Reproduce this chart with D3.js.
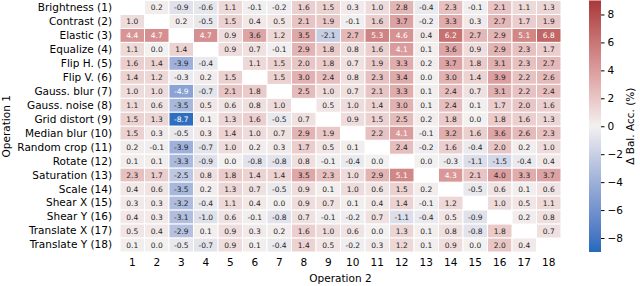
<!DOCTYPE html>
<html>
<head>
<meta charset="utf-8">
<script src="https://cdn.jsdelivr.net/npm/d3@7"></script>
<style>
  body { margin: 0; background: #fff; }
  text { font-family: "DejaVu Sans", sans-serif; }
</style>
</head>
<body>
<div id="graph"></div>
<script>
// pairwise augmentation heatmap
const opNames = ["Brightness (1)", "Contrast (2)", "Elastic (3)", "Equalize (4)", "Flip H. (5)", "Flip V. (6)",
    "Gauss. blur (7)", "Gauss. noise (8)", "Grid distort (9)", "Median blur (10)", "Random crop (11)", "Rotate (12)",
    "Saturation (13)", "Scale (14)", "Shear X (15)", "Shear Y (16)", "Translate X (17)", "Translate Y (18)"];
const colLabels = d3.range(1, 19).map(String);
const cbarTicks = [-8, -6, -4, -2, 0, 2, 4, 6, 8];

// rows = operation 1, columns = operation 2, null on the diagonal
const values = [
    [null, 0.2, -0.9, -0.6, 1.1, -0.1, -0.2, 1.6, 1.5, 0.3, 1.0, 2.8, -0.4, 2.3, -0.1, 2.1, 1.1, 1.3],
    [1.0, null, 0.2, -0.5, 1.5, 0.4, 0.5, 2.1, 1.9, -0.1, 1.6, 3.7, -0.2, 3.3, 0.3, 2.7, 1.7, 1.9],
    [4.4, 4.7, null, 4.7, 0.9, 3.6, 1.2, 3.5, -2.1, 2.7, 5.3, 4.6, 0.4, 6.2, 2.7, 2.9, 5.1, 6.8],
    [1.1, 0.0, 1.4, null, 0.9, 0.7, -0.1, 2.9, 1.8, 0.8, 1.6, 4.1, 0.1, 3.6, 0.9, 2.9, 2.3, 1.7],
    [1.6, 1.4, -3.9, -0.4, null, 1.1, 1.5, 2.0, 1.8, 0.7, 1.9, 3.3, 0.2, 3.7, 1.8, 3.1, 2.3, 2.7],
    [1.4, 1.2, -0.3, 0.2, 1.5, null, 1.5, 3.0, 2.4, 0.8, 2.3, 3.4, 0.0, 3.0, 1.4, 3.9, 2.2, 2.6],
    [1.0, 1.0, -4.9, -0.7, 2.1, 1.8, null, 2.5, 1.0, 0.7, 2.1, 3.3, 0.1, 2.4, 0.7, 3.1, 2.2, 2.4],
    [1.1, 0.6, -3.5, 0.5, 0.6, 0.8, 1.0, null, 0.5, 1.0, 1.4, 3.0, 0.1, 2.4, 0.1, 1.7, 2.0, 1.6],
    [1.5, 1.3, -8.7, 0.1, 1.3, 1.6, -0.5, 0.7, null, 0.9, 1.5, 2.5, 0.2, 1.8, 0.0, 1.8, 1.6, 1.3],
    [1.5, 0.3, -0.5, 0.3, 1.4, 1.0, 0.7, 2.9, 1.9, null, 2.2, 4.1, -0.1, 3.2, 1.6, 3.6, 2.6, 2.3],
    [0.2, -0.1, -3.9, -0.7, 1.0, 0.2, 0.3, 1.7, 0.5, 0.1, null, 2.4, -0.2, 1.6, -0.4, 2.0, 0.2, 1.0],
    [0.1, 0.1, -3.3, -0.9, 0.0, -0.8, -0.8, 0.8, -0.1, -0.4, 0.0, null, 0.0, -0.3, -1.1, -1.5, -0.4, 0.4],
    [2.3, 1.7, -2.5, 0.8, 1.8, 1.4, 1.4, 3.5, 2.3, 1.0, 2.9, 5.1, null, 4.3, 2.1, 4.0, 3.3, 3.7],
    [0.4, 0.6, -3.5, 0.2, 1.3, 0.7, -0.5, 0.9, 0.1, 1.0, 0.6, 1.5, 0.2, null, -0.5, 0.6, 0.1, 0.6],
    [0.3, 0.3, -3.2, -0.4, 1.1, 0.4, 0.0, 0.9, 0.7, 0.1, 0.4, 1.4, -0.1, 1.2, null, 1.0, 0.5, 1.1],
    [0.4, 0.3, -3.1, -1.0, 0.6, -0.1, -0.8, 0.7, -0.1, -0.2, 0.7, -1.1, -0.4, 0.5, -0.9, null, 0.2, 0.8],
    [0.5, 0.4, -2.9, 0.1, 0.9, 0.3, 0.2, 1.6, 1.0, 0.6, 0.0, 1.3, 0.1, 0.8, -0.8, 1.8, null, 0.7],
    [0.1, 0.0, -0.5, -0.7, 0.9, 0.1, -0.4, 1.4, 0.5, -0.2, 0.3, 1.2, 0.1, 0.9, 0.0, 2.0, 0.4, null]
];

const width = 640, height = 286;
const margin = {top: 0.5, left: 120, bottom: 34, right: 79};
const plotW = width - margin.left - margin.right;
const plotH = height - margin.top - margin.bottom;

let svg = d3.select("#graph")
    .append("svg")
    .attr("width", width)
    .attr("height", height);

let g = svg.append("g")
    .attr("transform", `translate(${margin.left}, ${margin.top})`);

let x = d3.scaleBand().domain(colLabels).range([0, plotW]);
let y = d3.scaleBand().domain(opNames).range([0, plotH]);

// vlag-like diverging map
let color = d3.scaleLinear()
    .domain([-9, -4.5, 0, 4.5, 9])
    .range(["#2369bd", "#92a8d6", "#f3f0f0", "#d79394", "#a9373b"])
    .interpolate(d3.interpolateLab)
    .clamp(true);

function textColor(v) {
    let c = d3.rgb(color(v));
    let lin = ch => { ch /= 255; return ch <= 0.03928 ? ch / 12.92 : Math.pow((ch + 0.055) / 1.055, 2.4); };
    let lum = 0.2126 * lin(c.r) + 0.7152 * lin(c.g) + 0.0722 * lin(c.b);
    return lum > 0.408 ? "#262626" : "#ffffff";
}

let cells = [];
values.forEach((row, i) => row.forEach((v, j) => {
    if (v !== null) cells.push({r: opNames[i], c: colLabels[j], v: v});
}));

g.selectAll("rect.cell").data(cells)
    .enter()
    .append("rect")
    .attr("class", "cell")
    .attr("x", d => x(d.c))
    .attr("y", d => y(d.r))
    .attr("width", x.bandwidth())
    .attr("height", y.bandwidth())
    .attr("fill", d => color(d.v))
    .attr("stroke", "#fff")
    .attr("stroke-width", 1);

g.selectAll("text.val").data(cells)
    .enter()
    .append("text")
    .attr("class", "val")
    .attr("x", d => x(d.c) + x.bandwidth() / 2)
    .attr("y", d => y(d.r) + y.bandwidth() / 2)
    .attr("dy", "0.35em")
    .style("text-anchor", "middle")
    .style("font-size", "7.5px")
    .attr("fill", d => textColor(d.v))
    .text(d => d3.format(".1f")(d.v).replace("−", "-"));

// axes without tick marks
g.append("g")
    .attr("transform", `translate(0, ${plotH})`)
    .call(d3.axisBottom(x).tickSize(0).tickPadding(7))
    .call(a => a.select(".domain").remove())
    .selectAll("text")
    .style("font-size", "10.5px")
    .attr("fill", "#000");

g.append("g")
    .call(d3.axisLeft(y).tickSize(0).tickPadding(8))
    .call(a => a.select(".domain").remove())
    .selectAll("text")
    .style("font-size", "10.5px")
    .attr("fill", "#000");

g.append("text")
    .attr("x", plotW / 2)
    .attr("y", plotH + 30)
    .style("text-anchor", "middle")
    .style("font-size", "10.5px")
    .text("Operation 2");

svg.append("text")
    .attr("transform", `translate(10, ${margin.top + plotH / 2}) rotate(-90)`)
    .style("text-anchor", "middle")
    .style("font-size", "10.5px")
    .text("Operation 1");

// colorbar
const cbX = 589, cbW = 12;
let cb = d3.scaleLinear().domain([-9, 9]).range([margin.top + plotH, margin.top]);
let defs = svg.append("defs");
let grad = defs.append("linearGradient")
    .attr("id", "cbgrad")
    .attr("x1", 0).attr("y1", 1).attr("x2", 0).attr("y2", 0);
d3.range(0, 1.0001, 0.05).forEach(t => {
    grad.append("stop")
        .attr("offset", t)
        .attr("stop-color", color(-9 + 18 * t));
});
svg.append("rect")
    .attr("x", cbX)
    .attr("y", cb(9))
    .attr("width", cbW)
    .attr("height", cb(-9) - cb(9))
    .attr("fill", "url(#cbgrad)");

svg.append("g")
    .attr("transform", `translate(${cbX + cbW}, 0)`)
    .call(d3.axisRight(cb).tickValues(cbarTicks).tickSize(3.5).tickPadding(3).tickFormat(d => d3.format("d")(d)))
    .call(a => a.select(".domain").remove())
    .call(a => a.selectAll("line").attr("stroke", "#000"))
    .selectAll("text")
    .style("font-size", "10.5px")
    .attr("fill", "#000");

svg.append("text")
    .attr("transform", `translate(634, ${margin.top + plotH / 2}) rotate(-90)`)
    .style("text-anchor", "middle")
    .style("font-size", "10.5px")
    .text("Δ Bal. Acc. (%)");
</script>
</body>
</html>
